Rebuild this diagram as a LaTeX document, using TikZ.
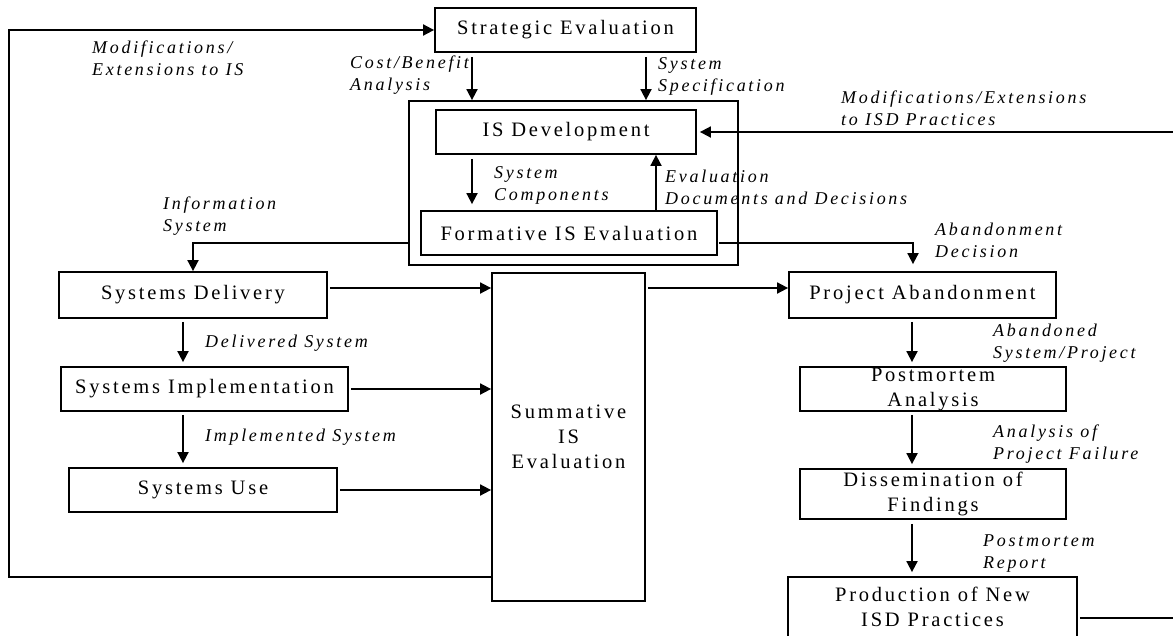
\documentclass[tikz,border=0pt]{standalone}
\usepackage{fontspec}
\setmainfont{Liberation Serif}
\newfontfamily\boxfont{Liberation Serif}[LetterSpace=13.5]
\newfontfamily\labfont{Liberation Serif}[LetterSpace=15]
\usetikzlibrary{arrows.meta,calc}
\begin{document}
\begin{tikzpicture}[x=1pt,y=-1pt,
  box/.style={draw, line width=1.8pt, inner sep=0pt, align=center, font=\boxfont\fontsize{20.5}{25}\selectfont},
  lab/.style={anchor=west, inner sep=0pt, align=left, font=\labfont\itshape\fontsize{18}{22}\selectfont},
  arr/.style={line width=1.8pt, -{Triangle[length=11pt,width=11pt]}},
  ln/.style={line width=1.8pt}]
\useasboundingbox (0,0) rectangle (1173,635);
% boxes
\node[box, minimum width=261, minimum height=44] (se) at (565.5,30) {Strategic Evaluation};
\node[draw, line width=1.8pt, minimum width=329, minimum height=164, inner sep=0pt] (grp) at (573.5,183) {};
\node[box, minimum width=260, minimum height=44] (isd) at (566,132) {IS Development};
\node[box, minimum width=296, minimum height=44] (fe) at (569,233) {Formative IS Evaluation};
\node[box, minimum width=268, minimum height=46] (sd) at (193,295) {Systems Delivery};
\node[box, minimum width=287, minimum height=44] (si) at (204.5,389) {Systems Implementation};
\node[box, minimum width=268, minimum height=44] (su) at (203,490) {Systems Use};
\node[box, minimum width=153, minimum height=328] (sum) at (568.5,437) {Summative\\IS\\Evaluation};
\node[box, minimum width=267, minimum height=46] (pa) at (922.5,295) {Project Abandonment};
\node[box, minimum width=266, minimum height=44] (pm) at (933,389) {Postmortem\\Analysis};
\node[box, minimum width=266, minimum height=50] (df) at (933,494) {Dissemination of\\Findings};
\node[box, draw=none, minimum width=287, minimum height=58] (pn) at (932.5,607) {Production of New\\ISD Practices};
\draw[ln] (pn.south west) -- (pn.north west) -- (pn.north east) -- (pn.south east);
% connectors
\coordinate (loopL) at (9,577);
\draw[arr] (sum.west |- loopL) -- (loopL) |- (se.west);
\coordinate (cbx) at (472,0);
\coordinate (ssx) at (646,0);
\coordinate (evx) at (656,0);
\draw[arr, shorten <=4pt] (cbx |- se.south) -- (cbx |- grp.north);
\draw[arr, shorten <=4pt] (ssx |- se.south) -- (ssx |- grp.north);
\draw[arr, shorten <=4pt, shorten >=6pt] (cbx |- isd.south) -- (cbx |- fe.north);
\draw[arr] (evx |- fe.north) -- (evx |- isd.south);
\coordinate (misd) at (1173,132);
\draw[arr, shorten >=3pt] (misd) -- (isd.east);
\coordinate (isx) at (193,243);
\draw[arr] (grp.west |- isx) -- (isx) -- (isx |- sd.north);
\coordinate (adx) at (913,243);
\draw[arr, shorten <=1pt, shorten >=7pt] (fe.east |- adx) -- (adx) -- (adx |- pa.north);
\coordinate (y288) at (0,288);
\draw[arr, shorten <=2pt] (sd.east |- y288) -- (sum.west |- y288);
\draw[arr, shorten <=2pt] (si.east) -- (sum.west |- si.east);
\draw[arr, shorten <=2pt] (su.east) -- (sum.west |- su.east);
\draw[arr, shorten <=2pt] (sum.east |- y288) -- (pa.west |- y288);
\coordinate (dx) at (183,0);
\draw[arr, shorten <=3pt, shorten >=4pt] (dx |- sd.south) -- (dx |- si.north);
\draw[arr, shorten <=3pt, shorten >=4pt] (dx |- si.south) -- (dx |- su.north);
\coordinate (px) at (912,0);
\draw[arr, shorten <=3pt, shorten >=4pt] (px |- pa.south) -- (px |- pm.north);
\draw[arr, shorten <=3pt, shorten >=4pt] (px |- pm.south) -- (px |- df.north);
\draw[arr, shorten <=4pt, shorten >=5pt] (px |- df.south) -- (px |- pn.north);
\coordinate (rpn) at (1173,618);
\draw[ln, shorten <=3pt] (pn.east |- rpn) -- (rpn);
% labels
\node[lab] (lmod) at (92,58) {Modifications/\\Extensions to IS};
\node[lab] (lcb) at (350,75) {Cost/Benefit\\Analysis};
\node[lab] (lss) at (658,76) {System\\Specification};
\node[lab] (lsc) at (494,185) {System\\Components};
\node[lab] (led) at (665,187) {Evaluation\\Documents and Decisions};
\node[lab] (lmisd) at (841,108) {Modifications/Extensions\\to ISD Practices};
\node[lab] (linfo) at (163,216) {Information\\System};
\node[lab] (labn) at (935,240) {Abandonment\\Decision};
\node[lab] (ldel) at (205,343) {Delivered System};
\node[lab] (limp) at (205,437) {Implemented System};
\node[lab] (labd) at (993,343) {Abandoned\\System/Project};
\node[lab] (lapf) at (993,444) {Analysis of\\Project Failure};
\node[lab] (lpr) at (983,554) {Postmortem\\Report};
\end{tikzpicture}
\end{document}
